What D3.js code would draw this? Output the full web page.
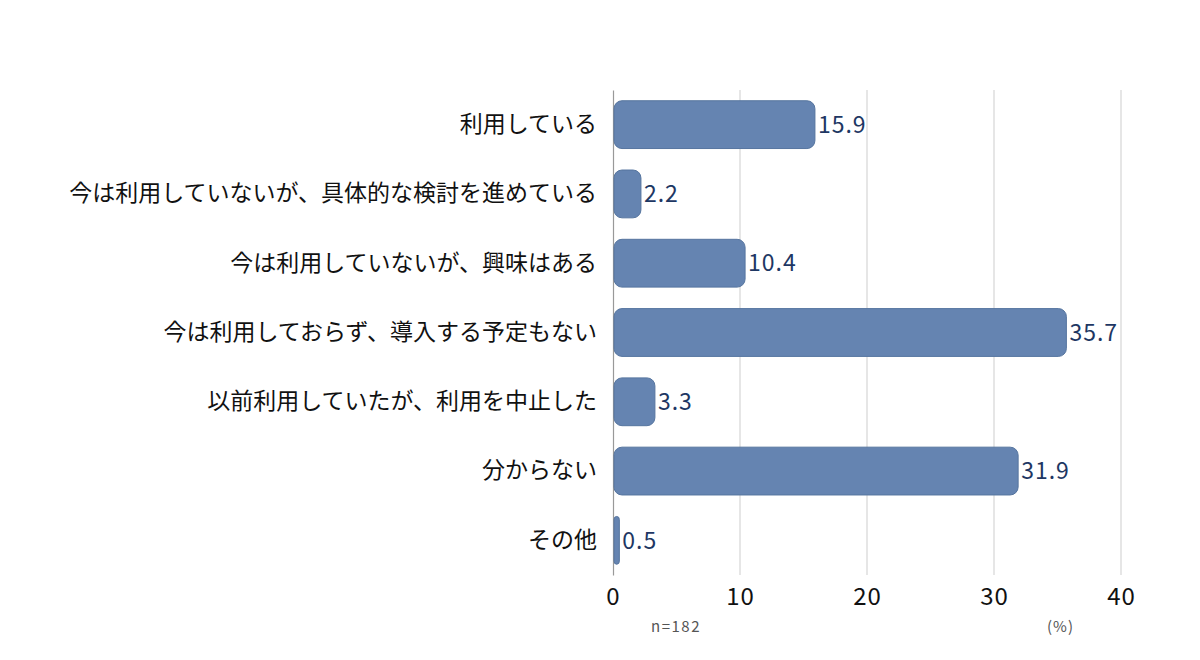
<!DOCTYPE html>
<html>
<head>
<meta charset="utf-8">
<script src="https://cdn.jsdelivr.net/npm/d3@7"></script>
<style>
  body { margin: 0; background: #fff; }
  text { font-family: "Noto Sans CJK JP", "Noto Sans", sans-serif; }
</style>
</head>
<body>
<div id="main"></div>
<script>
// データ
const categories = [
  '利用している',
  '今は利用していないが、具体的な検討を進めている',
  '今は利用していないが、興味はある',
  '今は利用しておらず、導入する予定もない',
  '以前利用していたが、利用を中止した',
  '分からない',
  'その他'
];
const values = [15.9, 2.2, 10.4, 35.7, 3.3, 31.9, 0.5];
const xTicks = [0, 10, 20, 30, 40];

const chartW = 1200, chartH = 660;
const plotLeft = 613, plotRight = 1121, plotTop = 90, plotBottom = 575;

const svg = d3.select('#main').append('svg')
  .attr('width', chartW)
  .attr('height', chartH);

const xScale = d3.scaleLinear().domain([0, 40]).range([plotLeft, plotRight]);
const yScale = d3.scaleBand().domain(categories).range([plotTop, plotBottom])
  .paddingInner(0.31).paddingOuter(0.155);

// グリッド線
svg.append('g')
  .selectAll('line')
  .data(xTicks.slice(1))
  .join('line')
    .attr('x1', d => xScale(d))
    .attr('x2', d => xScale(d))
    .attr('y1', plotTop)
    .attr('y2', plotBottom)
    .attr('stroke', '#d6d6d6')
    .attr('stroke-width', 1.2);

// x軸
const xAxis = d3.axisBottom(xScale).tickValues(xTicks).tickSize(0).tickPadding(13);
svg.append('g')
  .attr('transform', `translate(0,${plotBottom})`)
  .call(xAxis)
  .call(g => g.select('.domain').remove())
  .selectAll('text')
    .attr('font-size', 24)
    .attr('letter-spacing', 1)
    .attr('fill', '#111');

// y軸
const yAxis = d3.axisLeft(yScale).tickSize(0).tickPadding(16);
svg.append('g')
  .attr('transform', `translate(${plotLeft},0)`)
  .call(yAxis)
  .call(g => g.select('.domain').attr('stroke', '#999').attr('stroke-width', 1.2))
  .selectAll('text')
    .attr('font-size', 23)
    .attr('fill', '#111');

// 棒
const rows = categories.map((c, i) => ({ c: c, v: values[i] }));
svg.append('g')
  .selectAll('rect')
  .data(rows)
  .join('rect')
    .attr('x', xScale(0) + 1)
    .attr('y', d => yScale(d.c))
    .attr('width', d => Math.max(xScale(d.v) - xScale(0) - 1, 4))
    .attr('height', yScale.bandwidth())
    .attr('rx', d => Math.min(8, (xScale(d.v) - xScale(0)) / 2))
    .attr('fill', '#6584b1')
    .attr('stroke', '#56759f')
    .attr('stroke-width', 1);

// 値ラベル
svg.append('g')
  .selectAll('text')
  .data(rows)
  .join('text')
    .attr('x', d => Math.max(xScale(d.v), xScale(0) + 5) + 3)
    .attr('y', d => yScale(d.c) + yScale.bandwidth() / 2)
    .attr('dy', '0.36em')
    .attr('font-size', 23)
    .attr('letter-spacing', 1)
    .attr('fill', '#1e3763')
    .text(d => d.v.toFixed(1));

// 注記
svg.append('text')
  .attr('x', 651).attr('y', 632)
  .attr('font-size', 15).attr('letter-spacing', 1.5).attr('fill', '#555')
  .text('n=182');
svg.append('text')
  .attr('x', 1047).attr('y', 632)
  .attr('font-size', 15).attr('letter-spacing', 1).attr('fill', '#555')
  .text('(%)');
</script>
</body>
</html>
